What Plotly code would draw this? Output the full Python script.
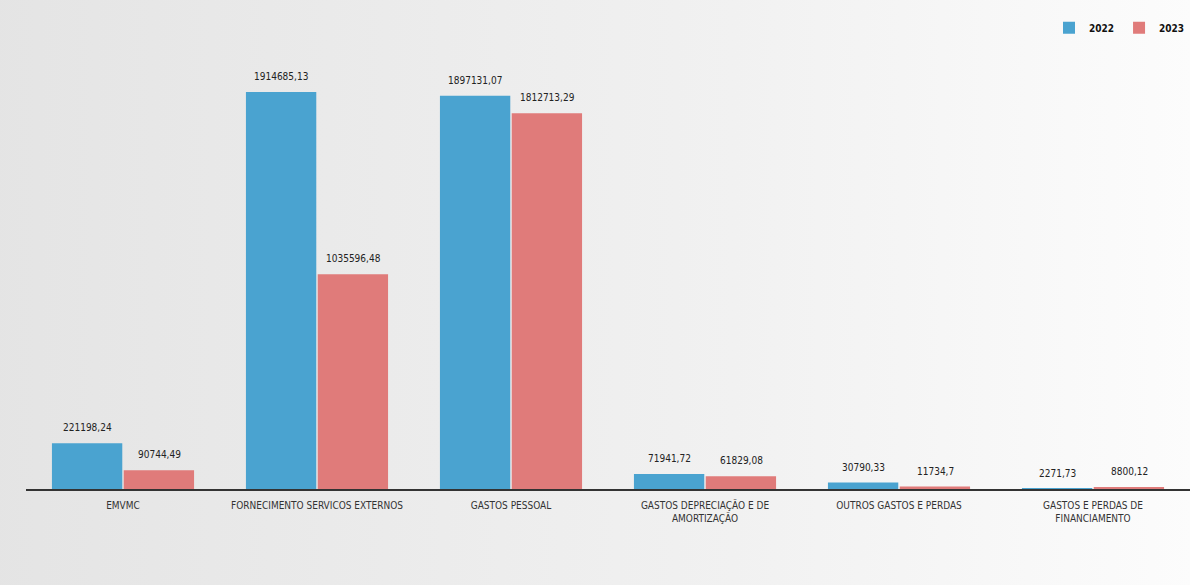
import plotly.graph_objects as go

categories = [
    "EMVMC",
    "FORNECIMENTO SERVICOS EXTERNOS",
    "GASTOS PESSOAL",
    "GASTOS DEPRECIAÇÃO E DE<br>AMORTIZAÇÃO",
    "OUTROS GASTOS E PERDAS",
    "GASTOS E PERDAS DE<br>FINANCIAMENTO",
]
values_2022 = [221198.24, 1914685.13, 1897131.07, 71941.72, 30790.33, 2271.73]
values_2023 = [90744.49, 1035596.48, 1812713.29, 61829.08, 11734.7, 8800.12]
series_names = ["2022", "2023"]


def fmt(v):
    s = f"{v:.2f}".rstrip("0").rstrip(".")
    return s.replace(".", ",")


blue = "#4aa3d0"
red = "#e07b7a"
font_family = "DejaVu Sans Condensed, Liberation Sans Narrow, sans-serif"

fig = go.Figure()
series = [(series_names[0], values_2022, blue, -1), (series_names[1], values_2023, red, 1)]
for name, vals, col, _ in series:
    fig.add_trace(go.Bar(
        x=categories, y=vals, name=name, marker_color=col,
        marker_line_width=0, cliponaxis=False,
    ))

# value labels sitting a little above each bar of the group
annotations = []
for name, vals, col, side in series:
    for cat, v in zip(categories, vals):
        annotations.append(dict(
            x=cat, y=v, xref="x", yref="y", text=fmt(v), showarrow=False,
            xshift=side * 36, yshift=8, yanchor="bottom",
            font=dict(size=10, color="#222222", family=font_family),
        ))

bg_svg = (
    "data:image/svg+xml;utf8,"
    "<svg xmlns='http://www.w3.org/2000/svg' width='100' height='100' preserveAspectRatio='none'>"
    "<defs><linearGradient id='g' x1='0' y1='0' x2='1' y2='0'>"
    "<stop offset='0' stop-color='%23e4e4e4'/><stop offset='0.6' stop-color='%23f1f1f1'/>"
    "<stop offset='1' stop-color='%23fdfdfd'/></linearGradient></defs>"
    "<rect width='100' height='100' fill='url(%23g)'/></svg>"
)

fig.update_layout(
    width=1190, height=585,
    margin=dict(l=26, r=0, t=60, b=96),
    paper_bgcolor="#ececec",
    plot_bgcolor="rgba(0,0,0,0)",
    barmode="group", bargap=0.26, bargroupgap=0.02,
    font=dict(family=font_family, size=10, color="#222222"),
    annotations=annotations,
    images=[dict(source=bg_svg, xref="paper", yref="paper", x=-0.04, y=1.16,
                 sizex=1.08, sizey=1.42, sizing="stretch", layer="below",
                 xanchor="left", yanchor="top")],
    showlegend=True,
    legend=dict(orientation="h", x=1.0, xanchor="right", y=1.075, yanchor="middle",
                font=dict(size=10, color="#111111", family="DejaVu Sans Condensed, sans-serif",
                          weight="bold"),
                bgcolor="rgba(0,0,0,0)", itemwidth=30, tracegroupgap=0),
    xaxis=dict(showgrid=False, showline=True, linecolor="#333333", linewidth=2,
               ticks="", tickfont=dict(size=10, color="#333333"), ticklabelstandoff=6),
    yaxis=dict(range=[0, 2069000], visible=False, showgrid=False, zeroline=False),
)

fig.write_html("out.html")
